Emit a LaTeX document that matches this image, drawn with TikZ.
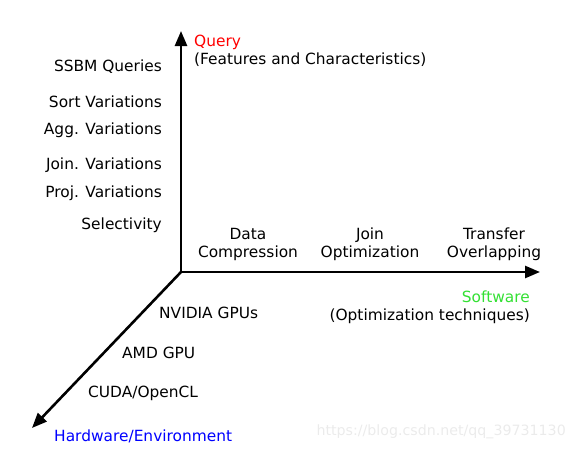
\documentclass[tikz,border=0pt]{standalone}
\usepackage{fontspec}
\setmainfont{DejaVu Sans}
\usetikzlibrary{arrows.meta}
\definecolor{swgreen}{RGB}{51,224,51}
\tikzset{
  axis/.style={line width=2.6pt, -{Triangle[length=15pt,width=12pt]}},
  lbl/.style={font=\fontsize{15.4}{18}\selectfont, inner sep=0pt},
}
\begin{document}
\begin{tikzpicture}[x=1pt,y=-1pt]
  \useasboundingbox (0,0) rectangle (574,450);
  \coordinate (O) at (181,272);
  \coordinate (qtip) at (181,31);
  \coordinate (stip) at (540,272);
  \coordinate (htip) at (32,428);
  \draw[axis] (O) -- (qtip);
  \draw[axis] (O) -- (stip);
  \draw[axis] (O) -- (htip);
  % query axis
  \node[lbl, anchor=west, text=red] (query) at (194,42) {Query};
  \node[lbl, anchor=west] (queryfc) at (194,60) {(Features and Characteristics)};
  \node[lbl, anchor=east] (ssbm) at (162,67) {SSBM Queries};
  \node[lbl, anchor=east] (sort) at (162,102) {Sort Variations};
  \node[lbl, anchor=east] (agg) at (162,130) {Agg. Variations};
  \node[lbl, anchor=east] (join) at (162,165) {Join. Variations};
  \node[lbl, anchor=east] (proj) at (162,193) {Proj. Variations};
  \node[lbl, anchor=east] (sel) at (162,225) {Selectivity};
  % software axis
  \node[lbl, align=center] (comp) at (248,244) {Data\\Compression};
  \node[lbl, align=center] (joinopt) at (370,244) {Join\\Optimization};
  \node[lbl, align=center] (transfer) at (494,244) {Transfer\\Overlapping};
  \node[lbl, anchor=east, text=swgreen] (software) at (530,297) {Software};
  \node[lbl, anchor=east] (softwareot) at (530,316) {(Optimization techniques)};
  % hardware axis
  \node[lbl, anchor=west] (nvidia) at (159,313) {NVIDIA GPUs};
  \node[lbl, anchor=west] (amd) at (122,353) {AMD GPU};
  \node[lbl, anchor=west] (cuda) at (88,393) {CUDA/OpenCL};
  \node[lbl, anchor=west, text=blue] (hardware) at (54,436) {Hardware/Environment};
  \node[lbl, anchor=east, text=black!8, font=\fontsize{14.2}{16}\selectfont] (mark) at (566,432) {https://blog.csdn.net/qq\_39731130};
\end{tikzpicture}
\end{document}
